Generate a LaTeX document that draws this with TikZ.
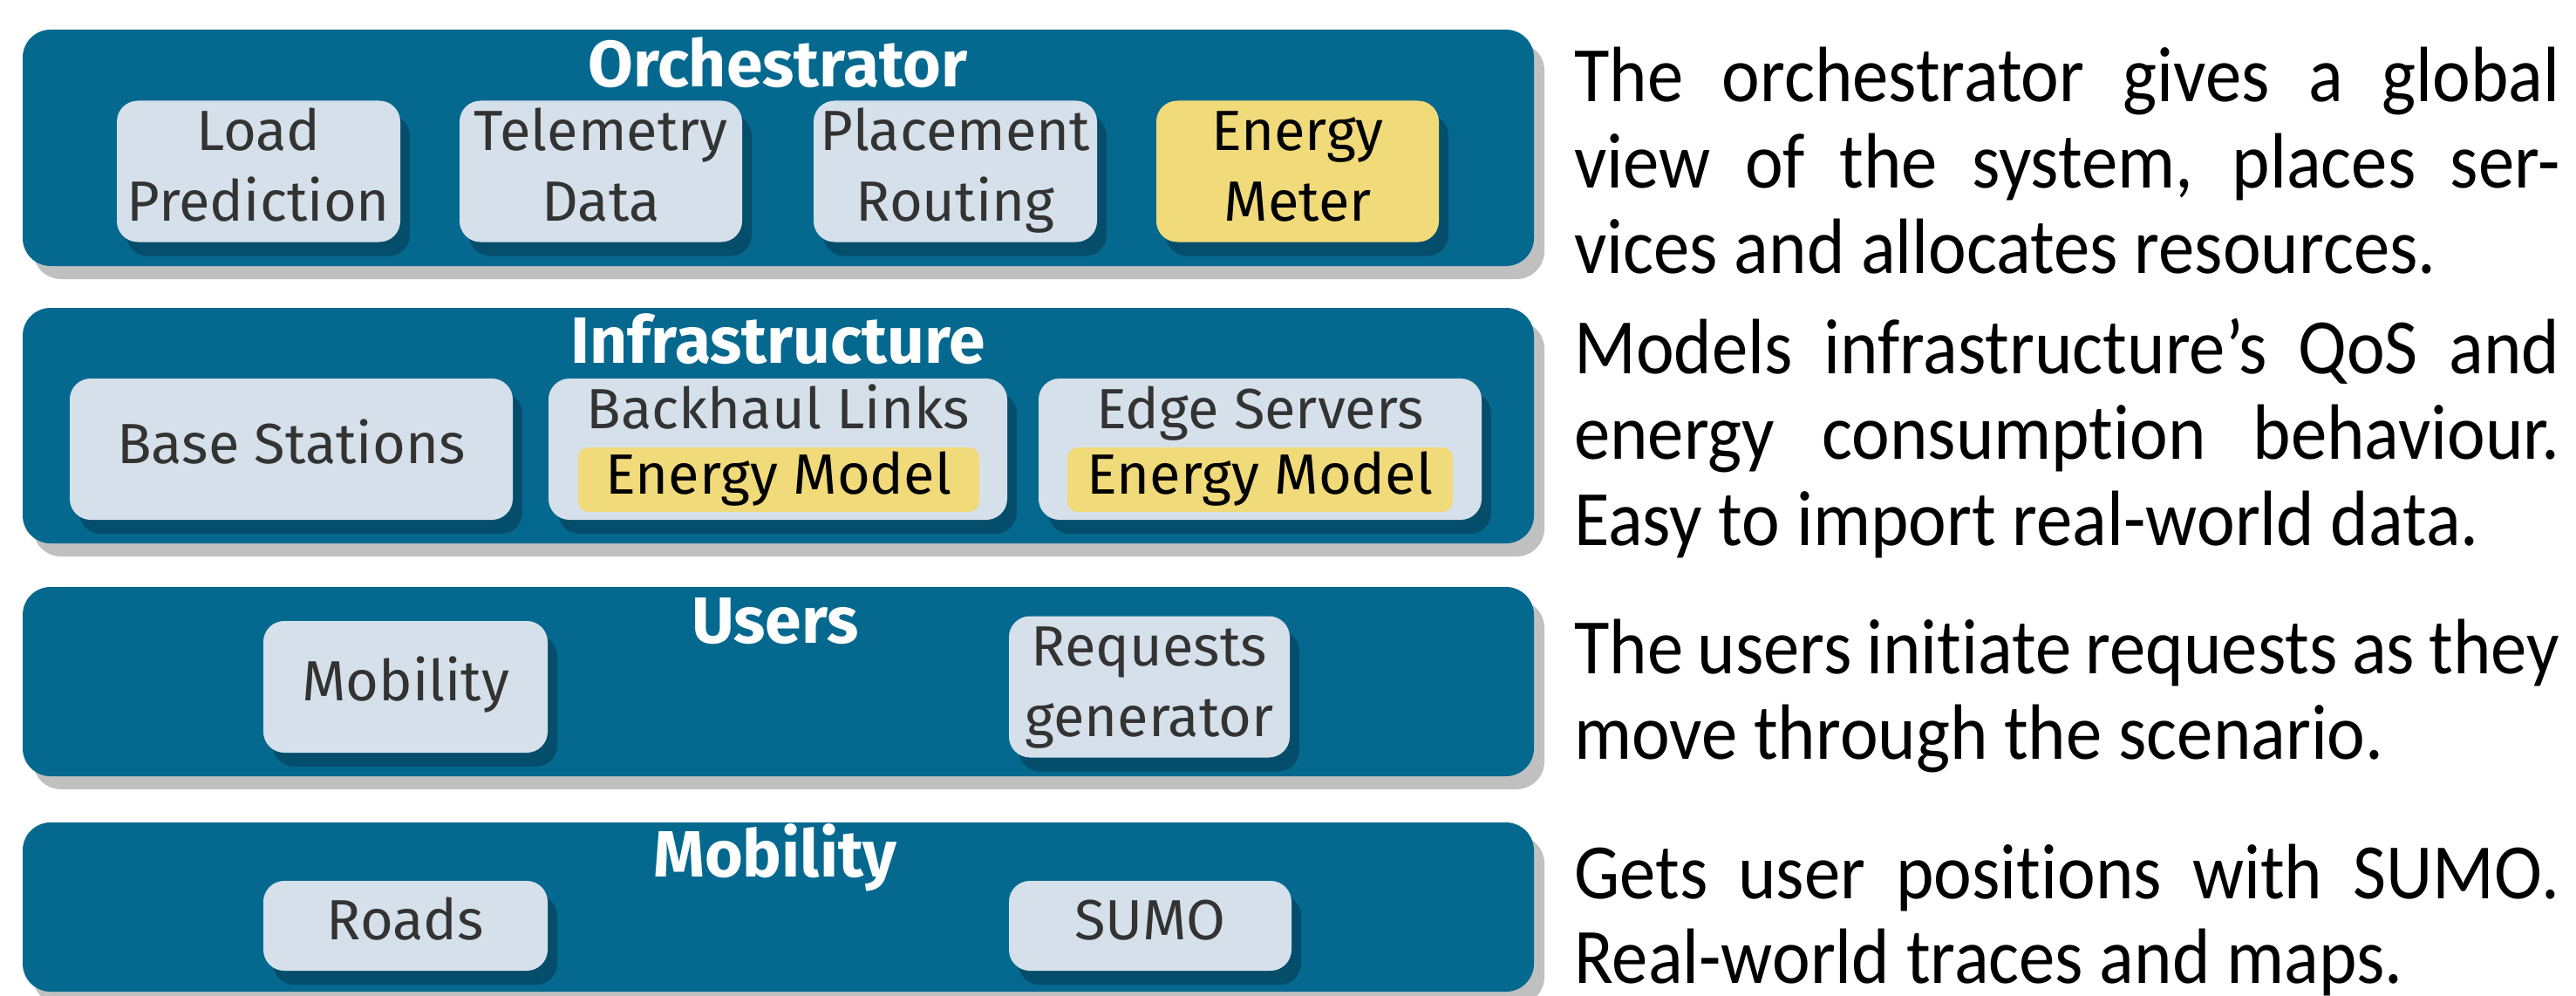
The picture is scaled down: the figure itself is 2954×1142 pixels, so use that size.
\documentclass[tikz,border=0pt]{standalone}
\usepackage{fontspec}
\setmainfont{Fira Sans}
\newfontfamily\descfont[FakeStretch=0.92,Ligatures=NoCommon]{Carlito}
\usetikzlibrary{shadows}
\definecolor{layerblue}{HTML}{05698F}
\definecolor{innershadow}{HTML}{044E6C}
\definecolor{boxfill}{HTML}{D6E0EA}
\definecolor{energyfill}{HTML}{F1DA79}
\definecolor{shadowgrey}{HTML}{C0C0C0}
\definecolor{textgrey}{HTML}{333333}
\tikzset{
  layer/.style={fill=layerblue, rounded corners=32pt, inner sep=0pt,
    general shadow={fill=shadowgrey, shadow xshift=12pt, shadow yshift=-15pt}},
  comp/.style={fill=boxfill, rounded corners=24pt, inner sep=0pt, align=center,
    text=textgrey, font=\fontsize{65}{81}\selectfont,
    general shadow={fill=innershadow, shadow xshift=11pt, shadow yshift=-16pt}},
  energycomp/.style={comp, fill=energyfill, text=black},
  layertitle/.style={text=white, font=\bfseries\fontsize{75}{90}\selectfont, anchor=base, inner sep=0pt},
  emodel/.style={fill=energyfill, rounded corners=12pt, inner sep=0pt, text=black,
    font=\fontsize{65}{81}\selectfont},
  plainlbl/.style={anchor=base, inner sep=0pt, text=textgrey, font=\fontsize{65}{81}\selectfont},
  desc/.style={anchor=base west, inner sep=0pt, text=black, font=\descfont\fontsize{90}{98}\selectfont}
}
\begin{document}
\begin{tikzpicture}[x=1pt,y=-1pt]
\fill[white] (0,0) rectangle (2954,1142);
\useasboundingbox (0,0) rectangle (2954,1142);

% Orchestrator layer
\node[layer, minimum width=1733pt, minimum height=271pt] (orch) at (892.5,169.5) {};
\node[layertitle] (orchT) at (892,100) {Orchestrator};
\node[comp, minimum width=325pt, minimum height=161pt] (lp) at (296.5,196.5) {Load\strut\\Prediction\strut};
\node[comp, minimum width=324pt, minimum height=161pt] (tel) at (689,196.5) {Telemetry\strut\\Data\strut};
\node[comp, minimum width=325pt, minimum height=161pt] (pr) at (1095.5,196.5) {Placement\strut\\Routing\strut};
\node[energycomp, minimum width=324pt, minimum height=161pt] (em) at (1488,196.5) {Energy\strut\\Meter\strut};

% Infrastructure layer
\node[layer, minimum width=1733pt, minimum height=270pt] (infra) at (892.5,488) {};
\node[layertitle] (infraT) at (892,416) {Infrastructure};
\node[comp, minimum width=508pt, minimum height=162pt] (bs) at (334,515) {Base Stations\strut};
\node[comp, minimum width=526pt, minimum height=162pt] (bh) at (892,515) {};
\node[plainlbl] (bhT) at (892,491) {Backhaul Links};
\node[emodel, minimum width=460pt, minimum height=74pt] (bhE) at (893,550) {};
\node[plainlbl, text=black] (bhEt) at (893,566) {Energy Model};
\node[comp, minimum width=508pt, minimum height=162pt] (es) at (1445,515) {};
\node[plainlbl] (esT) at (1445,491) {Edge Servers};
\node[emodel, minimum width=442pt, minimum height=74pt] (esE) at (1445,550) {};
\node[plainlbl, text=black] (esEt) at (1445,566) {Energy Model};

% Users layer
\node[layer, minimum width=1733pt, minimum height=217pt] (users) at (892.5,781.5) {};
\node[layertitle] (usersT) at (889,737) {Users};
\node[comp, minimum width=326pt, minimum height=151pt] (mob) at (465,787.5) {Mobility\strut};
\node[comp, minimum width=322pt, minimum height=151pt] (req) at (1318,787.5) {Requests\strut\\generator\strut};

% Mobility layer
\node[layer, minimum width=1733pt, minimum height=194pt] (mobl) at (892.5,1040) {};
\node[layertitle] (moblT) at (889,1005) {Mobility};
\node[comp, minimum width=326pt, minimum height=103pt] (roads) at (465,1061.5) {Roads\strut};
\node[comp, minimum width=324pt, minimum height=103pt] (sumo) at (1319,1061.5) {SUMO\strut};

% Descriptions
\node[desc] (d1) at (1805,117) {\makebox[1130pt][s]{The orchestrator gives a global}};
\node[desc] (d2) at (1805,215) {\makebox[1130pt][s]{view of the system, places ser-}};
\node[desc] (d3) at (1805,313) {vices and allocates resources.};
\node[desc] (d4) at (1805,428) {\makebox[1130pt][s]{Models infrastructure’s QoS and}};
\node[desc] (d5) at (1805,526) {\makebox[1130pt][s]{energy consumption behaviour.}};
\node[desc] (d6) at (1805,625) {Easy to import real-world data.};
\node[desc] (d7) at (1805,772) {\makebox[1130pt][s]{The users initiate requests as they}};
\node[desc] (d8) at (1805,870) {move through the scenario.};
\node[desc] (d9) at (1805,1030) {\makebox[1130pt][s]{Gets user positions with SUMO.}};
\node[desc] (d10) at (1805,1127) {Real-world traces and maps.};
\end{tikzpicture}
\end{document}
